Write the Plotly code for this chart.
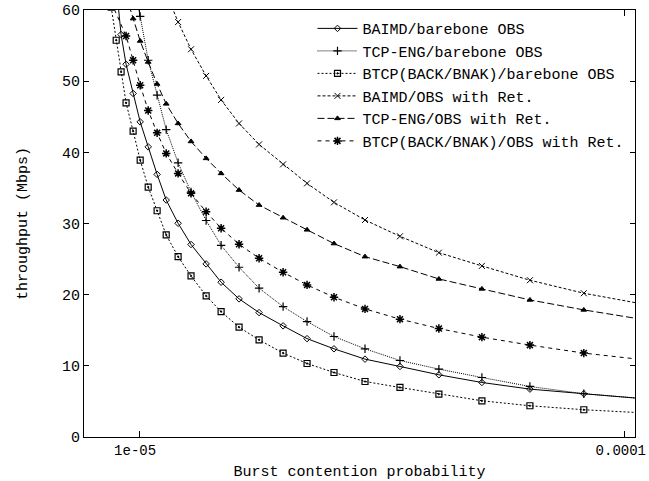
import plotly.graph_objects as go

# Burst contention probability (shared x grid)
x_prob = [8.76e-6, 8.97e-6, 9.18e-6, 9.40e-6, 9.72e-6, 1.005e-5, 1.044e-5, 1.089e-5,
          1.137e-5, 1.203e-5, 1.279e-5, 1.374e-5, 1.475e-5, 1.606e-5, 1.766e-5,
          1.979e-5, 2.217e-5, 2.519e-5, 2.918e-5, 3.444e-5, 4.142e-5, 5.079e-5,
          6.377e-5, 8.234e-5, 1.10e-4]

baimd_bare = [None, 63.5, 56.55, 52.38, 48.27, 44.28, 40.77, 36.90, 33.30, 30.03, 27.05,
              24.32, 21.75, 19.41, 17.48, 15.62, 13.82, 12.39, 10.94, 9.91, 8.74, 7.66,
              6.73, 6.08, 5.36]
tcpeng_bare = [None, None, None, None, 63.5, 59.11, 52.94, 48.03, 43.19, 38.53, 34.42,
               30.42, 26.94, 23.85, 20.91, 18.32, 16.22, 14.12, 12.39, 10.75, 9.54, 8.36,
               7.10, 6.08, 5.38]
btcp_bare = [60.4, 55.75, 51.30, 46.95, 42.98, 38.91, 35.12, 31.79, 28.39, 25.34, 22.63,
             19.83, 17.62, 15.43, 13.65, 11.79, 10.33, 9.06, 7.80, 6.96, 6.03, 5.09,
             4.39, 3.83, 3.38]
baimd_ret = [None, None, None, None, None, None, None, None, 62.4, 58.31, 54.48, 50.74,
             47.37, 44.06, 41.11, 38.31, 35.64, 32.97, 30.49, 28.20, 25.90, 24.04, 22.03,
             20.20, 18.63]
tcpeng_ret = [None, None, None, 62.0, 58.79, 55.65, 52.70, 49.61, 46.81, 44.06, 41.53,
              39.15, 37.04, 34.70, 32.59, 30.81, 29.11, 27.18, 25.34, 23.94, 22.21, 20.81,
              19.26, 17.86, 16.47]
btcp_ret = [61.1, None, None, 56.35, 52.94, 49.43, 45.88, 42.74, 39.85, 37.04, 34.24,
            31.65, 29.33, 27.09, 25.12, 23.15, 21.37, 19.64, 18.00, 16.56, 15.24, 14.03,
            12.91, 11.79, 10.83]

names = ["BAIMD/barebone OBS", "TCP-ENG/barebone OBS", "BTCP(BACK/BNAK)/barebone OBS",
         "BAIMD/OBS with Ret.", "TCP-ENG/OBS with Ret.", "BTCP(BACK/BNAK)/OBS with Ret."]
series = [baimd_bare, tcpeng_bare, btcp_bare, baimd_ret, tcpeng_ret, btcp_ret]
dashes = ["solid", "1px,1px", "2px,2px", "3px,2px", "7px,3px", "4px,4px"]
symbols = ["diamond-open", "cross-thin-open", "square-open-dot", "x-thin-open",
           "triangle-up", "asterisk-open"]
sizes = [5, 6, 6, 6, 5, 7]
mlw = [1, 1.2, 1.2, 1, 1, 1.5]

y_ticks = [0, 10, 20, 30, 40, 50, 60]
x_tickvals = [1e-5, 1e-4]
x_ticktext = ["1e-05", "0.0001"]

FONT = "Liberation Mono"
FS = 15

fig = go.Figure()
for name, ys, d, s, sz, lw in zip(names, series, dashes, symbols, sizes, mlw):
    fig.add_trace(go.Scatter(
        x=x_prob, y=ys, name=name, mode="lines+markers", connectgaps=True,
        line=dict(color="black", width=1, dash=d),
        marker=dict(symbol=s, size=sz, color="black", line=dict(color="black", width=lw)),
    ))

fig.update_layout(
    width=649, height=481,
    margin=dict(l=84, r=14, t=10, b=44),
    paper_bgcolor="white", plot_bgcolor="white",
    font=dict(family=FONT, size=FS, color="black"),
    showlegend=True,
    legend=dict(x=0.99, y=0.995, xanchor="right", yanchor="top",
                bgcolor="rgba(0,0,0,0)", borderwidth=0,
                font=dict(family=FONT, size=FS), itemwidth=40, tracegroupgap=0),
    xaxis=dict(type="log", range=[-5.1135, -3.979], automargin=False,
               tickvals=x_tickvals, ticktext=x_ticktext, ticklabeloverflow="allow",
               tickfont=dict(family=FONT, size=14), ticklabelshift=-4,
               ticks="inside", ticklen=6, tickcolor="black",
               showline=True, linecolor="black", linewidth=1, mirror="ticks",
               showgrid=False, zeroline=False,
               title=dict(text="Burst contention probability", standoff=8,
                          font=dict(family=FONT, size=FS))),
    yaxis=dict(range=[0, 60], tickvals=y_ticks, automargin=False,
               ticks="inside", ticklen=5, tickcolor="black",
               showline=True, linecolor="black", linewidth=1, mirror="ticks",
               showgrid=False, zeroline=False,
               title=dict(text="throughput (Mbps)", standoff=30,
                          font=dict(family=FONT, size=FS))),
)

fig.write_html("out.html")
